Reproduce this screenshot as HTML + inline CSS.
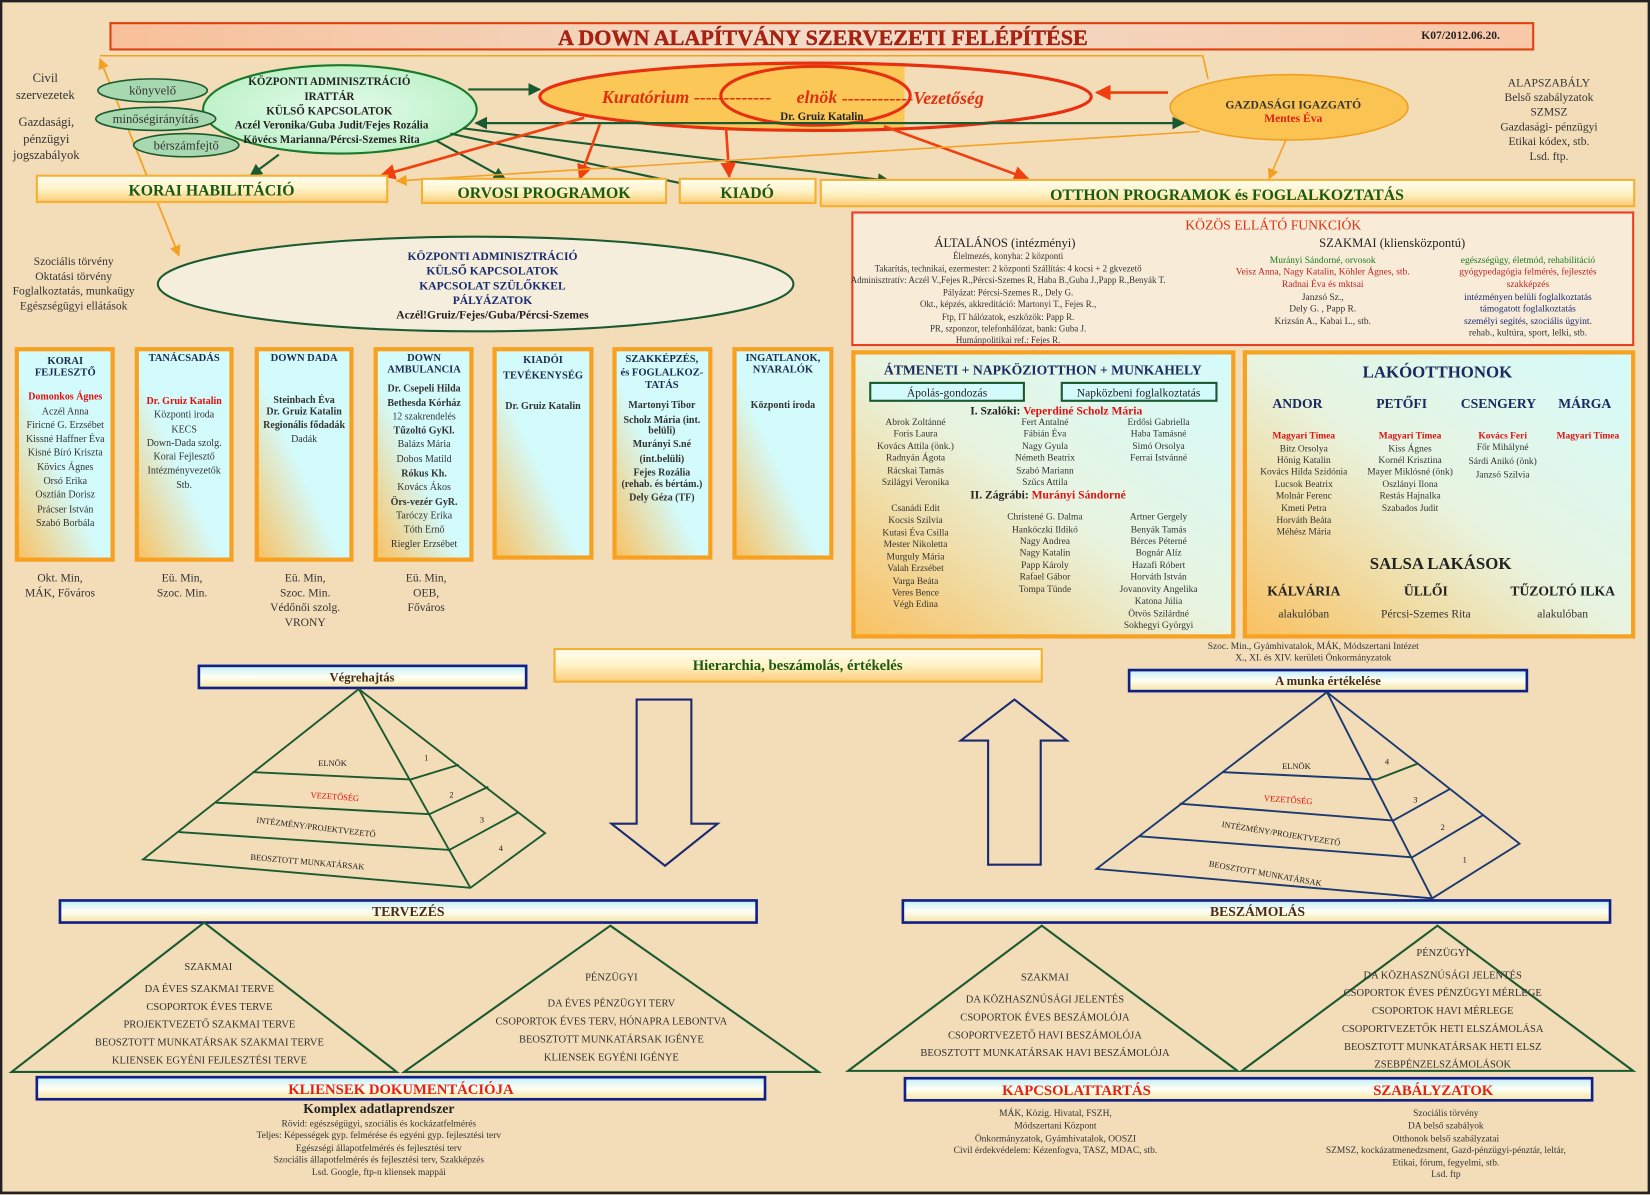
<!DOCTYPE html>
<html><head><meta charset="utf-8"><style>
html,body{margin:0;padding:0;background:#f3dcb8;}
svg{display:block;}
text{font-family:"Liberation Serif",serif;}
</style></head><body>
<svg width="1650" height="1195" viewBox="0 0 1568 1136" preserveAspectRatio="none" xmlns="http://www.w3.org/2000/svg">
<defs>
<linearGradient id="gCol" x1="1" y1="0" x2="0" y2="1"><stop offset="0" stop-color="#d4fbfb"/><stop offset="0.55" stop-color="#d4fbfb"/><stop offset="1" stop-color="#f9c060"/></linearGradient>
<linearGradient id="gBig" x1="1" y1="0" x2="0" y2="1"><stop offset="0" stop-color="#d4fbfb"/><stop offset="0.5" stop-color="#e8f4e0"/><stop offset="1" stop-color="#f9c060"/></linearGradient>
<linearGradient id="gYel" x1="0" y1="0" x2="0" y2="1"><stop offset="0" stop-color="#fffdf0"/><stop offset="0.5" stop-color="#fff3c8"/><stop offset="1" stop-color="#fbcc78"/></linearGradient>
<linearGradient id="gBlue" x1="0" y1="0" x2="0" y2="1"><stop offset="0" stop-color="#c4eef8"/><stop offset="0.5" stop-color="#fffff4"/><stop offset="1" stop-color="#f6e4a0"/></linearGradient>
<linearGradient id="gTitle" x1="0" y1="0" x2="1" y2="0"><stop offset="0" stop-color="#f8c09a"/><stop offset="0.5" stop-color="#f2dcc8"/><stop offset="1" stop-color="#f8c8a8"/></linearGradient>
<linearGradient id="gKur" x1="0" y1="0" x2="1" y2="0"><stop offset="0" stop-color="#fbc858"/><stop offset="0.66" stop-color="#fbc858"/><stop offset="0.665" stop-color="#f3dcb8" stop-opacity="0"/><stop offset="1" stop-color="#f3dcb8" stop-opacity="0"/></linearGradient>
<radialGradient id="gGreen" cx="0.5" cy="0.5" r="0.6"><stop offset="0" stop-color="#e4fcea"/><stop offset="1" stop-color="#b8f0c4"/></radialGradient>
<marker id="aG" viewBox="0 0 10 10" refX="9" refY="5" markerWidth="6" markerHeight="6" orient="auto"><path d="M0,0L10,5L0,10z" fill="#1a5a30"/></marker>
<marker id="aR" viewBox="0 0 10 10" refX="9" refY="5" markerWidth="6" markerHeight="6" orient="auto"><path d="M0,0L10,5L0,10z" fill="#f04010"/></marker>
<marker id="aO" viewBox="0 0 10 10" refX="9" refY="5" markerWidth="7" markerHeight="7" orient="auto"><path d="M0,0L10,5L0,10z" fill="#f5a020"/></marker>
</defs>
<rect x="0" y="0" width="1568" height="1136" fill="#f3dcb8"/>
<rect x="1" y="1" width="1566" height="1133" fill="none" stroke="#222" stroke-width="2.5"/>

<rect x="105" y="22" width="1352" height="25" fill="url(#gTitle)" stroke="#e04010" stroke-width="2"/>
<text x="782" y="43" text-anchor="middle" font-size="21" font-weight="bold" fill="#b02010" stroke="#701000" stroke-width="0.3">A DOWN ALAPÍTVÁNY SZERVEZETI FELÉPÍTÉSE</text>
<text x="1388" y="37" text-anchor="middle" font-size="11" font-weight="bold" fill="#222">K07/2012.06.20.</text>

<polyline points="95,53 1143,53 1148,75" fill="none" stroke="#f5a020" stroke-width="1.5"/>
<line x1="170" y1="243" x2="95" y2="56" stroke="#f5a020" stroke-width="1.5" marker-end="url(#aO)"/>
<line x1="95" y1="56" x2="170" y2="243" stroke="#f5a020" stroke-width="1.5" marker-end="url(#aO)"/>

<g font-size="12" fill="#333" text-anchor="middle">
<text x="43" y="78">Civil</text><text x="43" y="94">szervezetek</text>
<text x="44" y="120">Gazdasági,</text><text x="44" y="136">pénzügyi</text><text x="44" y="151">jogszabályok</text>
</g>
<g font-size="11" fill="#333" text-anchor="middle">
<text x="70" y="252">Szociális törvény</text><text x="70" y="266">Oktatási   törvény</text><text x="70" y="280">Foglalkoztatás, munkaügy</text><text x="70" y="294">Egészségügyi ellátások</text>
</g>

<ellipse cx="323" cy="104" rx="130" ry="42" fill="url(#gGreen)" stroke="#1a7a2a" stroke-width="2"/>
<ellipse cx="145" cy="86" rx="52" ry="11" fill="#a8d8b0" stroke="#1a5a30" stroke-width="1.5"/>
<ellipse cx="148" cy="113" rx="57" ry="11" fill="#a8d8b0" stroke="#1a5a30" stroke-width="1.5"/>
<ellipse cx="177" cy="138" rx="50" ry="11" fill="#a8d8b0" stroke="#1a5a30" stroke-width="1.5"/>
<g font-size="12" fill="#333" text-anchor="middle">
<text x="145" y="90">könyvelő</text><text x="148" y="117">minőségirányítás</text><text x="177" y="142">bérszámfejtő</text>
</g>
<g font-size="10.5" font-weight="bold" fill="#222" text-anchor="middle">
<text x="313" y="81">KÖZPONTI ADMINISZTRÁCIÓ</text><text x="313" y="95">IRATTÁR</text><text x="313" y="109">KÜLSŐ KAPCSOLATOK</text>
<text x="315" y="122">Aczél Veronika/Guba Judit/Fejes Rozália</text><text x="315" y="136">Kövécs Marianna/Pércsi-Szemes Rita</text>
</g>

<ellipse cx="775" cy="92" rx="262" ry="32" fill="url(#gKur)" stroke="#e83010" stroke-width="3"/>
<ellipse cx="775" cy="91" rx="90" ry="28" fill="none" stroke="#e83010" stroke-width="3"/>
<text x="572" y="98" font-size="17" font-style="italic" font-weight="bold" fill="#e03010">Kuratórium -------------</text>
<text x="757" y="98" font-size="17" font-style="italic" font-weight="bold" fill="#e03010">elnök</text>
<text x="800" y="99" font-size="17" font-style="italic" font-weight="bold" fill="#e03010">------------Vezetőség</text>
<text x="781" y="114" text-anchor="middle" font-size="10.5" font-weight="bold" fill="#222">Dr. Gruiz Katalin</text>

<ellipse cx="1225" cy="102" rx="113" ry="31" fill="#fbc452" stroke="#f0a020" stroke-width="1.5"/>
<text x="1229" y="103" text-anchor="middle" font-size="11" font-weight="bold" fill="#333">GAZDASÁGI IGAZGATÓ</text>
<text x="1229" y="116" text-anchor="middle" font-size="11" font-weight="bold" fill="#e02010">Mentes Éva</text>
<g font-size="11" fill="#333" text-anchor="middle">
<text x="1472" y="82">ALAPSZABÁLY</text><text x="1472" y="96">Belső szabályzatok</text><text x="1472" y="110">SZMSZ</text><text x="1472" y="124">Gazdasági- pénzügyi</text><text x="1472" y="138">Etikai kódex, stb.</text><text x="1472" y="152">Lsd. ftp.</text>
</g>

<g stroke="#1a5a30" stroke-width="2" fill="none">
<line x1="445" y1="85" x2="513" y2="85" marker-end="url(#aG)"/>
<line x1="1120" y1="117" x2="452" y2="117" marker-end="url(#aG)"/>
<line x1="452" y1="117" x2="1125" y2="117" marker-end="url(#aG)"/>
<line x1="265" y1="147" x2="238" y2="167" marker-end="url(#aG)"/>
<line x1="415" y1="134" x2="480" y2="170" marker-end="url(#aG)"/>
<line x1="428" y1="127" x2="660" y2="177" marker-end="url(#aG)"/>
<line x1="440" y1="122" x2="845" y2="172" marker-end="url(#aG)"/>
</g>
<g stroke="#f04010" stroke-width="2.5" fill="none">
<line x1="555" y1="112" x2="362" y2="167" marker-end="url(#aR)"/>
<line x1="570" y1="118" x2="551" y2="170" marker-end="url(#aR)"/>
<line x1="690" y1="122" x2="693" y2="168" marker-end="url(#aR)"/>
<line x1="840" y1="120" x2="977" y2="170" marker-end="url(#aR)"/>
<line x1="1110" y1="88" x2="1042" y2="88" marker-end="url(#aR)"/>
</g>
<g stroke="#f5a020" stroke-width="1.5" fill="none">
<line x1="1140" y1="125" x2="377" y2="172" marker-end="url(#aO)"/>
<line x1="1222" y1="133" x2="1206" y2="170" marker-end="url(#aO)"/>
</g>

<g stroke="#f6b030" stroke-width="2" fill="url(#gYel)">
<rect x="35" y="167" width="333" height="25"/>
<rect x="401" y="170" width="232" height="23"/>
<rect x="646" y="170" width="129" height="23"/>
<rect x="780" y="171" width="773" height="25"/>
</g>
<g font-size="15" font-weight="bold" fill="#1a5a10" text-anchor="middle">
<text x="201" y="186">KORAI HABILITÁCIÓ</text>
<text x="517" y="188">ORVOSI PROGRAMOK</text>
<text x="710" y="188">KIADÓ</text>
<text x="1166" y="190">OTTHON PROGRAMOK és FOGLALKOZTATÁS</text>
</g>

<ellipse cx="452" cy="270" rx="302" ry="45" fill="#f6eedc" stroke="#1a5a30" stroke-width="2"/>
<g font-size="11" font-weight="bold" fill="#1a2a70" text-anchor="middle">
<text x="468" y="247">KÖZPONTI ADMINISZTRÁCIÓ</text><text x="468" y="261">KÜLSŐ KAPCSOLATOK</text><text x="468" y="275">KAPCSOLAT SZÜLŐKKEL</text><text x="468" y="289">PÁLYÁZATOK</text>
<text x="468" y="303" fill="#222">Aczél!Gruiz/Fejes/Guba/Pércsi-Szemes</text>
</g>

<rect x="810" y="202" width="742" height="126" fill="#f8ecd8" stroke="#e84020" stroke-width="2"/>
<text x="1210" y="218" text-anchor="middle" font-size="13" fill="#e03010">KÖZÖS ELLÁTÓ FUNKCIÓK</text>
<text x="955" y="235" text-anchor="middle" font-size="12" fill="#222">ÁLTALÁNOS  (intézményi)</text>
<text x="1323" y="235" text-anchor="middle" font-size="12" fill="#222">SZAKMAI (kliensközpontú)</text>
<g font-size="8.5" fill="#333" text-anchor="middle">
<text x="958" y="246">Élelmezés, konyha: 2 központi</text>
<text x="958" y="258">Takarítás, technikai, ezermester: 2 központi Szállítás: 4 kocsi + 2 gkvezető</text>
<text x="958" y="269">Adminisztratív: Aczél V.,Fejes R.,Pércsi-Szemes R, Haba B.,Guba J.,Papp R.,Benyák T.</text>
<text x="958" y="281">Pályázat: Pércsi-Szemes R., Dely G.</text>
<text x="958" y="292">Okt., képzés, akkreditáció: Martonyi T., Fejes R.,</text>
<text x="958" y="304">Ftp, IT hálózatok, eszközök: Papp R.</text>
<text x="958" y="315">PR, szponzor, telefonhálózat, bank: Guba J.</text>
<text x="958" y="326">Humánpolitikai ref.: Fejes R.</text>
</g>
<g font-size="9" fill="#333" text-anchor="middle">
<text x="1257" y="250" fill="#1a7a1a">Murányi Sándorné, orvosok</text>
<text x="1257" y="261" fill="#c02020">Veisz Anna, Nagy Katalin, Köhler Ágnes, stb.</text>
<text x="1257" y="273" fill="#c02020">Radnai Éva és mktsai</text>
<text x="1257" y="285">Janzsó Sz.,</text>
<text x="1257" y="296">Dely G. , Papp R.</text>
<text x="1257" y="308">Krizsán A., Kabai L., stb.</text>
<text x="1452" y="250" fill="#1a7a1a">egészségügy, életmód, rehabilitáció</text>
<text x="1452" y="261" fill="#c02020">gyógypedagógia felmérés, fejlesztés</text>
<text x="1452" y="273" fill="#c02020">szakképzés</text>
<text x="1452" y="285" fill="#1a2a70">intézményen belüli foglalkoztatás</text>
<text x="1452" y="296" fill="#1a2a70">támogatott foglalkoztatás</text>
<text x="1452" y="308" fill="#1a2a70">személyi segítés, szociális ügyint.</text>
<text x="1452" y="319">rehab., kultúra, sport, lelki, stb.</text>
</g>

<g stroke="#f8a020" stroke-width="4" fill="url(#gCol)">
<rect x="16" y="332" width="91" height="200"/>
<rect x="130" y="332" width="90" height="200"/>
<rect x="244" y="332" width="90" height="200"/>
<rect x="357" y="332" width="91" height="200"/>
<rect x="470" y="332" width="92" height="198"/>
<rect x="584" y="332" width="91" height="198"/>
<rect x="698" y="332" width="92" height="198"/>
</g>
<g font-size="10" font-weight="bold" fill="#1a2a50" text-anchor="middle">
<text x="62" y="346">KORAI</text><text x="62" y="357">FEJLESZTŐ</text>
<text x="175" y="343">TANÁCSADÁS</text>
<text x="289" y="343">DOWN DADA</text>
<text x="403" y="343">DOWN</text><text x="403" y="354">AMBULANCIA</text>
<text x="516" y="345">KIADÓI</text><text x="516" y="360">TEVÉKENYSÉG</text>
<text x="629" y="344">SZAKKÉPZÉS,</text><text x="629" y="357">és FOGLALKOZ-</text><text x="629" y="369">TATÁS</text>
<text x="744" y="343">INGATLANOK,</text><text x="744" y="354">NYARALÓK</text>
</g>
<g font-size="9.5" fill="#333" text-anchor="middle">
<text x="62" y="380" fill="#e01010" font-weight="bold">Domonkos Ágnes</text>
<text x="62" y="394">Aczél Anna</text><text x="62" y="407">Firicné G. Erzsébet</text><text x="62" y="420">Kissné Haffner Éva</text><text x="62" y="433">Kisné Bíró Kriszta</text><text x="62" y="447">Kövics Ágnes</text><text x="62" y="460">Orsó Erika</text><text x="62" y="473">Osztián Dorisz</text><text x="62" y="487">Prácser István</text><text x="62" y="500">Szabó Borbála</text>
<text x="175" y="384" fill="#e01010" font-weight="bold">Dr. Gruiz Katalin</text>
<text x="175" y="397">Központi iroda</text><text x="175" y="411">KECS</text><text x="175" y="424">Down-Dada szolg.</text><text x="175" y="437">Korai Fejlesztő</text><text x="175" y="450">Intézményvezetők</text><text x="175" y="464">Stb.</text>
<text x="289" y="383" font-weight="bold">Steinbach Éva</text><text x="289" y="394" font-weight="bold">Dr. Gruiz Katalin</text><text x="289" y="407" font-weight="bold">Regionális fődadák</text><text x="289" y="420">Dadák</text>
<text x="403" y="372" font-weight="bold">Dr. Csepeli Hilda</text><text x="403" y="386" font-weight="bold">Bethesda Kórház</text><text x="403" y="399">12 szakrendelés</text><text x="403" y="412" font-weight="bold">Tűzoltó GyKl.</text><text x="403" y="425">Balázs Mária</text><text x="403" y="439">Dobos Matild</text><text x="403" y="453" font-weight="bold">Rókus Kh.</text><text x="403" y="466">Kovács Ákos</text><text x="403" y="480" font-weight="bold">Örs-vezér GyR.</text><text x="403" y="493">Taróczy Erika</text><text x="403" y="506">Tóth Ernő</text><text x="403" y="520">Riegler Erzsébet</text>
<text x="516" y="389" font-weight="bold">Dr. Gruiz Katalin</text>
<g font-weight="bold"><text x="629" y="388">Martonyi Tibor</text><text x="629" y="402">Scholz Mária (int.</text><text x="629" y="412">belüli)</text><text x="629" y="425">Murányi S.né</text><text x="629" y="439">(int.belüli)</text><text x="629" y="452">Fejes Rozália</text><text x="629" y="463">(rehab. és bértám.)</text><text x="629" y="476">Dely Géza (TF)</text>
<text x="744" y="388">Központi iroda</text></g>
</g>
<g font-size="11" fill="#333" text-anchor="middle">
<text x="57" y="553">Okt. Min,</text><text x="57" y="567">MÁK, Főváros</text>
<text x="173" y="553">Eü. Min,</text><text x="173" y="567">Szoc. Min.</text>
<text x="290" y="553">Eü. Min,</text><text x="290" y="567">Szoc. Min.</text><text x="290" y="581">Védőnői szolg.</text><text x="290" y="595">VRONY</text>
<text x="405" y="553">Eü. Min,</text><text x="405" y="567">OEB,</text><text x="405" y="581">Főváros</text>
</g>

<rect x="811" y="335" width="361" height="270" fill="url(#gBig)" stroke="#f8a020" stroke-width="4"/>
<text x="991" y="356" text-anchor="middle" font-size="13" font-weight="bold" fill="#1a2a60">ÁTMENETI + NAPKÖZIOTTHON + MUNKAHELY</text>
<rect x="827" y="364" width="146" height="17" fill="#d4fbfb" stroke="#1a5a30" stroke-width="2"/>
<rect x="1009" y="364" width="147" height="17" fill="#d4fbfb" stroke="#1a5a30" stroke-width="2"/>
<text x="900" y="377" text-anchor="middle" font-size="11" fill="#222">Ápolás-gondozás</text>
<text x="1082" y="377" text-anchor="middle" font-size="11" fill="#222">Napközbeni foglalkoztatás</text>
<text x="922" y="394" font-size="11" font-weight="bold" fill="#222">I. Szalóki: <tspan fill="#e01010">Veperdiné Scholz Mária</tspan></text>
<text x="922" y="474" font-size="11" font-weight="bold" fill="#222">II. Zágrábi: <tspan fill="#e01010">Murányi Sándorné</tspan></text>
<g font-size="9" fill="#333" text-anchor="middle">
<text x="870" y="404">Abrok Zoltánné</text><text x="870" y="415">Foris Laura</text><text x="870" y="427">Kovács Attila (önk.)</text><text x="870" y="438">Radnyán Ágota</text><text x="870" y="450">Rácskai Tamás</text><text x="870" y="461">Szilágyi Veronika</text>
<text x="993" y="404">Fert Antalné</text><text x="993" y="415">Fábián Éva</text><text x="993" y="427">Nagy Gyula</text><text x="993" y="438">Németh Beatrix</text><text x="993" y="450">Szabó Mariann</text><text x="993" y="461">Szűcs Attila</text>
<text x="1101" y="404">Erdősi Gabriella</text><text x="1101" y="415">Haba Tamásné</text><text x="1101" y="427">Simó Orsolya</text><text x="1101" y="438">Ferrai Istvánné</text>
<text x="870" y="486">Csanádi Edit</text><text x="870" y="497">Kocsis Szilvia</text><text x="870" y="509">Kutasi Éva Csilla</text><text x="870" y="520">Mester Nikoletta</text><text x="870" y="532">Murguly Mária</text><text x="870" y="543">Valah Erzsébet</text><text x="870" y="555">Varga Beáta</text><text x="870" y="566">Veres Bence</text><text x="870" y="577">Végh Edina</text>
<text x="993" y="494">Christené G. Dalma</text><text x="993" y="506">Hankóczki Ildikó</text><text x="993" y="517">Nagy Andrea</text><text x="993" y="528">Nagy Katalin</text><text x="993" y="540">Papp Károly</text><text x="993" y="551">Rafael Gábor</text><text x="993" y="563">Tompa Tünde</text>
<text x="1101" y="494">Artner Gergely</text><text x="1101" y="506">Benyák Tamás</text><text x="1101" y="517">Bérces Péterné</text><text x="1101" y="528">Bognár Alíz</text><text x="1101" y="540">Hazafi Róbert</text><text x="1101" y="551">Horváth István</text><text x="1101" y="563">Jovanovity Angelika</text><text x="1101" y="574">Katona Júlia</text><text x="1101" y="586">Ötvös Szilárdné</text><text x="1101" y="597">Sokhegyi Györgyi</text>
</g>

<rect x="1183" y="335" width="369" height="270" fill="url(#gBig)" stroke="#f8a020" stroke-width="4"/>
<text x="1366" y="359" text-anchor="middle" font-size="16" font-weight="bold" fill="#1a2a60">LAKÓOTTHONOK</text>
<g font-size="13" font-weight="bold" fill="#1a2a60" text-anchor="middle">
<text x="1233" y="388">ANDOR</text><text x="1332" y="388">PETŐFI</text><text x="1424" y="388">CSENGERY</text><text x="1506" y="388">MÁRGA</text>
</g>
<g font-size="9" fill="#333" text-anchor="middle">
<g fill="#e01010" font-weight="bold"><text x="1239" y="417">Magyari Tímea</text><text x="1340" y="417">Magyari Tímea</text><text x="1428" y="417">Kovács Feri</text><text x="1509" y="417">Magyari Tímea</text></g>
<text x="1239" y="429">Bitz Orsolya</text><text x="1239" y="440">Hönig Katalin</text><text x="1239" y="451">Kovács Hilda Szidónia</text><text x="1239" y="463">Lucsok Beatrix</text><text x="1239" y="474">Molnár Ferenc</text><text x="1239" y="486">Kmeti Petra</text><text x="1239" y="497">Horváth Beáta</text><text x="1239" y="508">Méhész Mária</text>
<text x="1340" y="429">Kiss Ágnes</text><text x="1340" y="440">Kornél Krisztina</text><text x="1340" y="451">Mayer Miklósné (önk)</text><text x="1340" y="463">Oszlányi Ilona</text><text x="1340" y="474">Restás Hajnalka</text><text x="1340" y="486">Szabados Judit</text>
<text x="1428" y="428">Főr Mihályné</text><text x="1428" y="441">Sárdi Anikó (önk)</text><text x="1428" y="454">Janzsó Szilvia</text>
</g>
<text x="1369" y="541" text-anchor="middle" font-size="16" font-weight="bold" fill="#222">SALSA LAKÁSOK</text>
<g font-size="13" font-weight="bold" fill="#222" text-anchor="middle">
<text x="1239" y="566">KÁLVÁRIA</text><text x="1355" y="566">ÜLLŐI</text><text x="1485" y="566">TŰZOLTÓ  ILKA</text>
</g>
<g font-size="11" fill="#333" text-anchor="middle">
<text x="1239" y="587">alakulóban</text><text x="1355" y="587">Pércsi-Szemes Rita</text><text x="1485" y="587">alakulóban</text>
</g>
<g font-size="9" fill="#333" text-anchor="middle">
<text x="1248" y="617">Szoc. Min., Gyámhivatalok, MÁK, Módszertani Intézet</text>
<text x="1248" y="628">X.,  XI. és XIV. kerületi Önkormányzatok</text>
</g>

<rect x="527" y="617" width="463" height="31" fill="url(#gYel)" stroke="#f6b030" stroke-width="2"/>
<text x="758" y="637" text-anchor="middle" font-size="14" font-weight="bold" fill="#1a5a10">Hierarchia, beszámolás, értékelés</text>

<rect x="189" y="633" width="311" height="21" fill="url(#gBlue)" stroke="#10208a" stroke-width="2.5"/>
<text x="344" y="648" text-anchor="middle" font-size="12" font-weight="bold" fill="#4a2a10">Végrehajtás</text>
<rect x="1073" y="637" width="378" height="20" fill="url(#gBlue)" stroke="#10208a" stroke-width="2.5"/>
<text x="1262" y="651" text-anchor="middle" font-size="12" font-weight="bold" fill="#4a2a10">A munka értékelése</text>

<g stroke="#1a5a30" stroke-width="1.8" fill="none">
<polygon points="341,655 136,817 447,844 518,792"/>
<line x1="341" y1="655" x2="447" y2="844"/>
<polyline points="240,734 390,741 436,727"/>
<polyline points="205,763 408,774 464,748"/>
<polyline points="170,791 427,808 493,772"/>
</g>
<g font-size="8" fill="#222" text-anchor="middle" font-family="Liberation Sans, sans-serif">
<text x="316" y="728">ELNÖK</text>
<text x="318" y="760" fill="#e01010" transform="rotate(4 318 760)">VEZETŐSÉG</text>
<text x="300" y="789" transform="rotate(7 300 789)">INTÉZMÉNY/PROJEKTVEZETŐ</text>
<text x="292" y="822" transform="rotate(5 292 822)">BEOSZTOTT MUNKATÁRSAK</text>
<text x="405" y="723">1</text><text x="429" y="758">2</text><text x="458" y="782">3</text><text x="476" y="809">4</text>
</g>

<polygon points="605,665 657,665 657,783 682,783 632,823 581,783 605,783" fill="none" stroke="#1a2a70" stroke-width="2"/>
<polygon points="964,665 1014,704 989,704 989,822 939,822 939,704 913,704" fill="none" stroke="#1a2a70" stroke-width="2"/>

<g stroke="#1a3a70" stroke-width="1.8" fill="none">
<polygon points="1261,658 1042,826 1361,854 1444,802"/>
<line x1="1261" y1="658" x2="1361" y2="854"/>
<polyline points="1162,734 1308,741"/>
<polyline points="1121,764 1324,780 1378,750"/>
<polyline points="1083,795 1342,815 1409,775"/>
</g>
<line x1="1308" y1="741" x2="1347" y2="726" stroke="#1a5a30" stroke-width="1.8"/>
<g font-size="8" fill="#222" text-anchor="middle" font-family="Liberation Sans, sans-serif">
<text x="1232" y="731">ELNÖK</text>
<text x="1224" y="763" fill="#e01010" transform="rotate(4 1224 763)">VEZETŐSÉG</text>
<text x="1217" y="795" transform="rotate(9 1217 795)">INTÉZMÉNY/PROJEKTVEZETŐ</text>
<text x="1202" y="833" transform="rotate(10 1202 833)">BEOSZTOTT MUNKATÁRSAK</text>
<text x="1318" y="727">4</text><text x="1345" y="763">3</text><text x="1371" y="789">2</text><text x="1392" y="820">1</text>
</g>

<rect x="57" y="856" width="662" height="21" fill="url(#gBlue)" stroke="#10208a" stroke-width="2.5"/>
<text x="388" y="871" text-anchor="middle" font-size="13" font-weight="bold" fill="#4a2a10">TERVEZÉS</text>
<rect x="858" y="856" width="672" height="21" fill="url(#gBlue)" stroke="#10208a" stroke-width="2.5"/>
<text x="1195" y="871" text-anchor="middle" font-size="13" font-weight="bold" fill="#4a2a10">BESZÁMOLÁS</text>

<g stroke="#1a5a30" stroke-width="2" fill="none">
<polygon points="194,877 11,1019 377,1019"/>
<polygon points="580,880 384,1019 778,1019"/>
<polygon points="990,880 806,1018 1176,1018"/>
<polygon points="1366,880 1180,1018 1552,1018"/>
</g>
<g font-size="10" fill="#333" text-anchor="middle">
<text x="198" y="922">SZAKMAI</text>
<text x="199" y="943">DA ÉVES SZAKMAI TERVE</text><text x="199" y="960">CSOPORTOK ÉVES TERVE</text><text x="199" y="977">PROJEKTVEZETŐ SZAKMAI TERVE</text><text x="199" y="994">BEOSZTOTT MUNKATÁRSAK SZAKMAI TERVE</text><text x="199" y="1011">KLIENSEK EGYÉNI FEJLESZTÉSI TERVE</text>
<text x="581" y="932">PÉNZÜGYI</text>
<text x="581" y="957">DA ÉVES PÉNZÜGYI TERV</text><text x="581" y="974">CSOPORTOK ÉVES TERV, HÓNAPRA LEBONTVA</text><text x="581" y="991">BEOSZTOTT MUNKATÁRSAK IGÉNYE</text><text x="581" y="1008">KLIENSEK EGYÉNI IGÉNYE</text>
<text x="993" y="932">SZAKMAI</text>
<text x="993" y="953">DA KÖZHASZNÚSÁGI JELENTÉS</text><text x="993" y="970">CSOPORTOK ÉVES BESZÁMOLÓJA</text><text x="993" y="987">CSOPORTVEZETŐ HAVI BESZÁMOLÓJA</text><text x="993" y="1004">BEOSZTOTT MUNKATÁRSAK HAVI BESZÁMOLÓJA</text>
<text x="1371" y="909">PÉNZÜGYI</text>
<text x="1371" y="930">DA KÖZHASZNÚSÁGI JELENTÉS</text><text x="1371" y="947">CSOPORTOK ÉVES PÉNZÜGYI MÉRLEGE</text><text x="1371" y="964">CSOPORTOK HAVI MÉRLEGE</text><text x="1371" y="981">CSOPORTVEZETŐK HETI ELSZÁMOLÁSA</text><text x="1371" y="998">BEOSZTOTT MUNKATÁRSAK HETI ELSZ</text><text x="1371" y="1015">ZSEBPÉNZELSZÁMOLÁSOK</text>
</g>

<rect x="35" y="1024" width="692" height="21" fill="url(#gBlue)" stroke="#10208a" stroke-width="2.5"/>
<text x="381" y="1040" text-anchor="middle" font-size="14" font-weight="bold" fill="#e82010">KLIENSEK DOKUMENTÁCIÓJA</text>
<rect x="860" y="1025" width="653" height="21" fill="url(#gBlue)" stroke="#10208a" stroke-width="2.5"/>
<text x="1023" y="1041" text-anchor="middle" font-size="14" font-weight="bold" fill="#e82010">KAPCSOLATTARTÁS</text>
<text x="1362" y="1041" text-anchor="middle" font-size="14" font-weight="bold" fill="#e82010">SZABÁLYZATOK</text>

<text x="360" y="1058" text-anchor="middle" font-size="13" font-weight="bold" fill="#222">Komplex adatlaprendszer</text>
<g font-size="9" fill="#333" text-anchor="middle">
<text x="360" y="1071">Rövid: egészségügyi, szociális és kockázatfelmérés</text>
<text x="360" y="1082">Teljes: Képességek gyp. felmérése és egyéni gyp. fejlesztési terv</text>
<text x="360" y="1094">Egészségi állapotfelmérés és fejlesztési terv</text>
<text x="360" y="1105">Szociális állapotfelmérés és fejlesztési terv, Szakképzés</text>
<text x="360" y="1117">Lsd. Google, ftp-n kliensek mappái</text>
<text x="1003" y="1061">MÁK, Közig. Hivatal, FSZH,</text>
<text x="1003" y="1073">Módszertani Központ</text>
<text x="1003" y="1085">Önkormányzatok, Gyámhivatalok, OOSZI</text>
<text x="1003" y="1096">Civil érdekvédelem: Kézenfogva, TASZ, MDAC, stb.</text>
<text x="1374" y="1061">Szociális törvény</text>
<text x="1374" y="1073">DA belső szabályok</text>
<text x="1374" y="1085">Otthonok belső szabályzatai</text>
<text x="1374" y="1096">SZMSZ, kockázatmenedzsment, Gazd-pénzügyi-pénztár, leltár,</text>
<text x="1374" y="1108">Etikai, fórum, fegyelmi, stb.</text>
<text x="1374" y="1119">Lsd. ftp</text>
</g>
</svg>
</body></html>
